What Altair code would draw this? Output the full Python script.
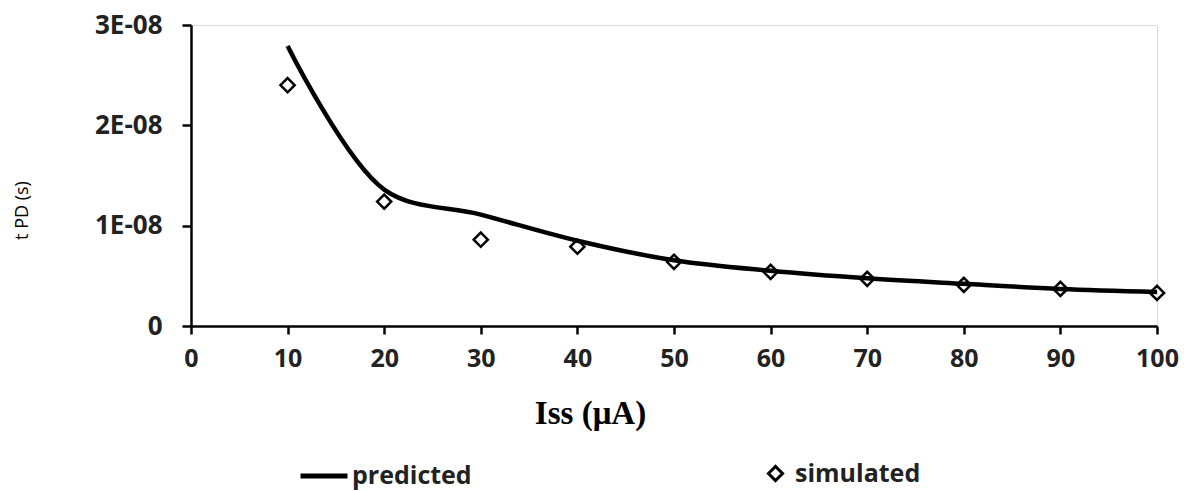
import altair as alt
import pandas as pd

iss = [10, 20, 30, 40, 50, 60, 70, 80, 90, 100]
predicted = [2.79e-8, 1.36e-8, 1.11e-8, 0.85e-8, 0.655e-8, 0.55e-8, 0.475e-8, 0.42e-8, 0.37e-8, 0.34e-8]
simulated = [2.40e-8, 1.24e-8, 0.86e-8, 0.79e-8, 0.64e-8, 0.54e-8, 0.47e-8, 0.41e-8, 0.37e-8, 0.33e-8]

pred_df = pd.DataFrame({"Iss": iss, "t": predicted, "line_series": "predicted"})
sim_df = pd.DataFrame({"Iss": iss, "t": simulated, "point_series": "simulated"})

FONT = "Open Sans"

x = alt.X("Iss:Q", scale=alt.Scale(domain=[0, 100], nice=False),
          axis=alt.Axis(values=list(range(0, 101, 10)), title="Iss (μA)",
                        titleFont="Liberation Serif", titleFontSize=33, titleFontWeight="bold",
                        titleX=399, titleY=87, titleBaseline="middle", titleAlign="center",
                        labelFont=FONT, labelFontSize=25, labelFontWeight="bold", labelColor="#222",
                        labelPadding=12, tickSize=8, tickWidth=2.5, tickColor="black",
                        domainColor="black", domainWidth=2.5, grid=False, labelFlush=False))
y = alt.Y("t:Q", scale=alt.Scale(domain=[0, 3e-8], nice=False),
          axis=alt.Axis(values=[0, 1e-8, 2e-8, 3e-8], title="t PD (s)",
                        labelExpr="datum.value == 0 ? '0' : round(datum.value*1e8) + 'E-08'",
                        titleFont=FONT, titleFontSize=18, titleFontWeight="normal",
                        titleX=-169, titleY=185, titleAngle=270, titleBaseline="middle", titleAlign="center",
                        labelFont=FONT, labelFontSize=26, labelFontWeight="bold", labelColor="#222",
                        labelPadding=20, tickSize=9, tickWidth=2.5, tickColor="black",
                        domainColor="black", domainWidth=2.5, grid=False))

line_legend = alt.Legend(title=None, orient="none", legendX=107, legendY=425, symbolType="stroke",
                         symbolSize=2209, symbolStrokeWidth=5, labelOffset=2,
                         labelFont=FONT, labelFontSize=25, labelFontWeight="bold", labelColor="#222")
point_legend = alt.Legend(title=None, orient="none", legendX=572, legendY=436,
                          symbolSize=200, symbolStrokeWidth=3, symbolStrokeColor="black",
                          labelOffset=7,
                          labelFont=FONT, labelFontSize=25, labelFontWeight="bold", labelColor="#222")

line = alt.Chart(pred_df).mark_line(strokeWidth=4.5, interpolate="catmull-rom").encode(
    x=x, y=y,
    color=alt.Color("line_series:N", scale=alt.Scale(domain=["predicted"], range=["black"]),
                    legend=line_legend))

points = alt.Chart(sim_df).mark_point(filled=False, strokeWidth=2.5, size=200, opacity=1).encode(
    x=x, y=y,
    shape=alt.Shape("point_series:N", scale=alt.Scale(domain=["simulated"], range=["diamond"]),
                    legend=point_legend),
    stroke=alt.value("black"),
)

chart = alt.layer(line, points).resolve_legend(color="independent", shape="independent").properties(
    width=966, height=301,
    autosize=alt.AutoSizeParams(type="none"),
    padding={"left": 191, "top": 25, "right": 32, "bottom": 165},
).configure_view(stroke=None).configure(background="white")

chart.save("out.html", embed_options={"renderer": "svg", "actions": False})
